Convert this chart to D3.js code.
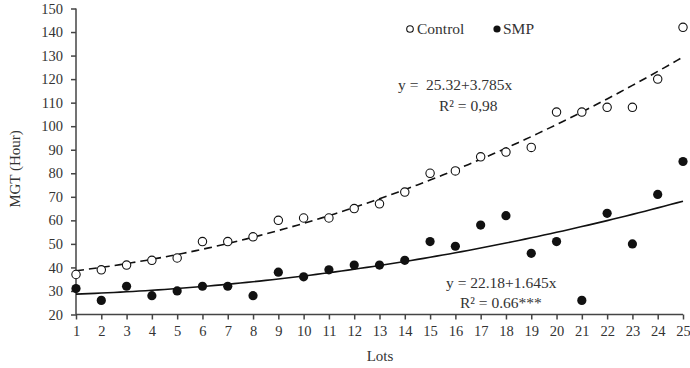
<!DOCTYPE html>
<html>
<head>
<meta charset="utf-8">
<script src="https://cdn.jsdelivr.net/npm/d3@7"></script>
<style>
body { margin: 0; background: #fff; }
svg text { font-family: "Liberation Serif", "Times New Roman", serif; fill: #333; }
</style>
</head>
<body>
<svg id="chart" width="690" height="368"></svg>
<script>
var lots = d3.range(1, 26);
var control = [37, 39, 41, 43, 44, 51, 51, 53, 60, 61, 61, 65, 67, 72, 80, 81, 87, 89, 91, 106, 106, 108, 108, 120, 142];
var smp = [31, 26, 32, 28, 30, 32, 32, 28, 38, 36, 39, 41, 41, 43, 51, 49, 58, 62, 46, 51, 26, 63, 50, 71, 85];
var yTicks = d3.range(20, 151, 10);

var svg = d3.select("#chart");
var x = d3.scaleLinear().domain([1, 25]).range([76, 683]);
var y = d3.scaleLinear().domain([20, 150]).range([314.5, 8.5]);

// quadratic least squares, like the spreadsheet trendline
function polyFit(xs, ys) {
  var S = [0, 0, 0, 0, 0], T = [0, 0, 0];
  xs.forEach(function(xv, i) {
    for (var k = 0; k < 5; k++) S[k] += Math.pow(xv, k);
    for (var k = 0; k < 3; k++) T[k] += ys[i] * Math.pow(xv, k);
  });
  var A = [[S[0], S[1], S[2], T[0]], [S[1], S[2], S[3], T[1]], [S[2], S[3], S[4], T[2]]];
  for (var i = 0; i < 3; i++) {
    for (var j = i + 1; j < 3; j++) {
      var f = A[j][i] / A[i][i];
      for (var k = i; k < 4; k++) A[j][k] -= f * A[i][k];
    }
  }
  var c = [0, 0, 0];
  for (var i = 2; i >= 0; i--) {
    var s = A[i][3];
    for (var k = i + 1; k < 3; k++) s -= A[i][k] * c[k];
    c[i] = s / A[i][i];
  }
  return function(v) { return c[0] + c[1] * v + c[2] * v * v; };
}

var yAxis = d3.axisLeft(y).tickValues(yTicks).tickSize(5).tickPadding(8);
var gy = svg.append("g").attr("transform", "translate(76,0)").call(yAxis);
var xAxis = d3.axisBottom(x).tickValues(lots).tickSize(5).tickPadding(6);
var gx = svg.append("g").attr("transform", "translate(0,314.5)").call(xAxis);
[gy, gx].forEach(function(g) {
  g.selectAll("path,line").attr("stroke", "#444").attr("stroke-width", 1.5);
  g.select(".domain").attr("d", g === gy ? "M0,314.5V8.5" : "M76,0H683");
  g.selectAll("text").style("font-size", "14.5px").attr("fill", "#333");
});

svg.append("text").attr("x", 380).attr("y", 361).attr("text-anchor", "middle")
  .style("font-size", "15px").text("Lots");
svg.append("text").attr("transform", "translate(20,169) rotate(-90)").attr("text-anchor", "middle")
  .style("font-size", "15px").text("MGT (Hour)");

var fine = d3.range(1, 25.01, 0.25);
var line = d3.line().x(function(d) { return x(d[0]); }).y(function(d) { return y(d[1]); });
var fc = polyFit(lots, control), fs = polyFit(lots, smp);

svg.append("path").attr("d", line(fine.map(function(v) { return [v, fc(v)]; })))
  .attr("fill", "none").attr("stroke", "#111").attr("stroke-width", 1.6).attr("stroke-dasharray", "8,5");
svg.append("path").attr("d", line(fine.map(function(v) { return [v, fs(v)]; })))
  .attr("fill", "none").attr("stroke", "#111").attr("stroke-width", 1.6);

svg.selectAll(".ctrl").data(control).enter().append("circle")
  .attr("cx", function(d, i) { return x(lots[i]); })
  .attr("cy", function(d) { return y(d); })
  .attr("r", 4.2).attr("fill", "#fff").attr("stroke", "#111").attr("stroke-width", 1.1);
svg.selectAll(".smp").data(smp).enter().append("circle")
  .attr("cx", function(d, i) { return x(lots[i]); })
  .attr("cy", function(d) { return y(d); })
  .attr("r", 4.6).attr("fill", "#111");

// legend
svg.append("circle").attr("cx", 410).attr("cy", 29).attr("r", 3.3).attr("fill", "#fff").attr("stroke", "#111").attr("stroke-width", 1.1);
svg.append("text").attr("x", 417).attr("y", 34).style("font-size", "15.5px").text("Control");
svg.append("circle").attr("cx", 497).attr("cy", 29).attr("r", 3.6).attr("fill", "#111");
svg.append("text").attr("x", 503).attr("y", 34).style("font-size", "15.5px").text("SMP");

// equations
svg.append("text").attr("x", 398).attr("y", 90).style("font-size", "15.5px").attr("xml:space", "preserve").text("y =  25.32+3.785x");
svg.append("text").attr("x", 439).attr("y", 111).style("font-size", "15.5px").text("R² = 0,98");
svg.append("text").attr("x", 446).attr("y", 288).style("font-size", "15.5px").text("y = 22.18+1.645x");
svg.append("text").attr("x", 460).attr("y", 308).style("font-size", "15.5px").text("R² = 0.66***");
</script>
</body>
</html>
